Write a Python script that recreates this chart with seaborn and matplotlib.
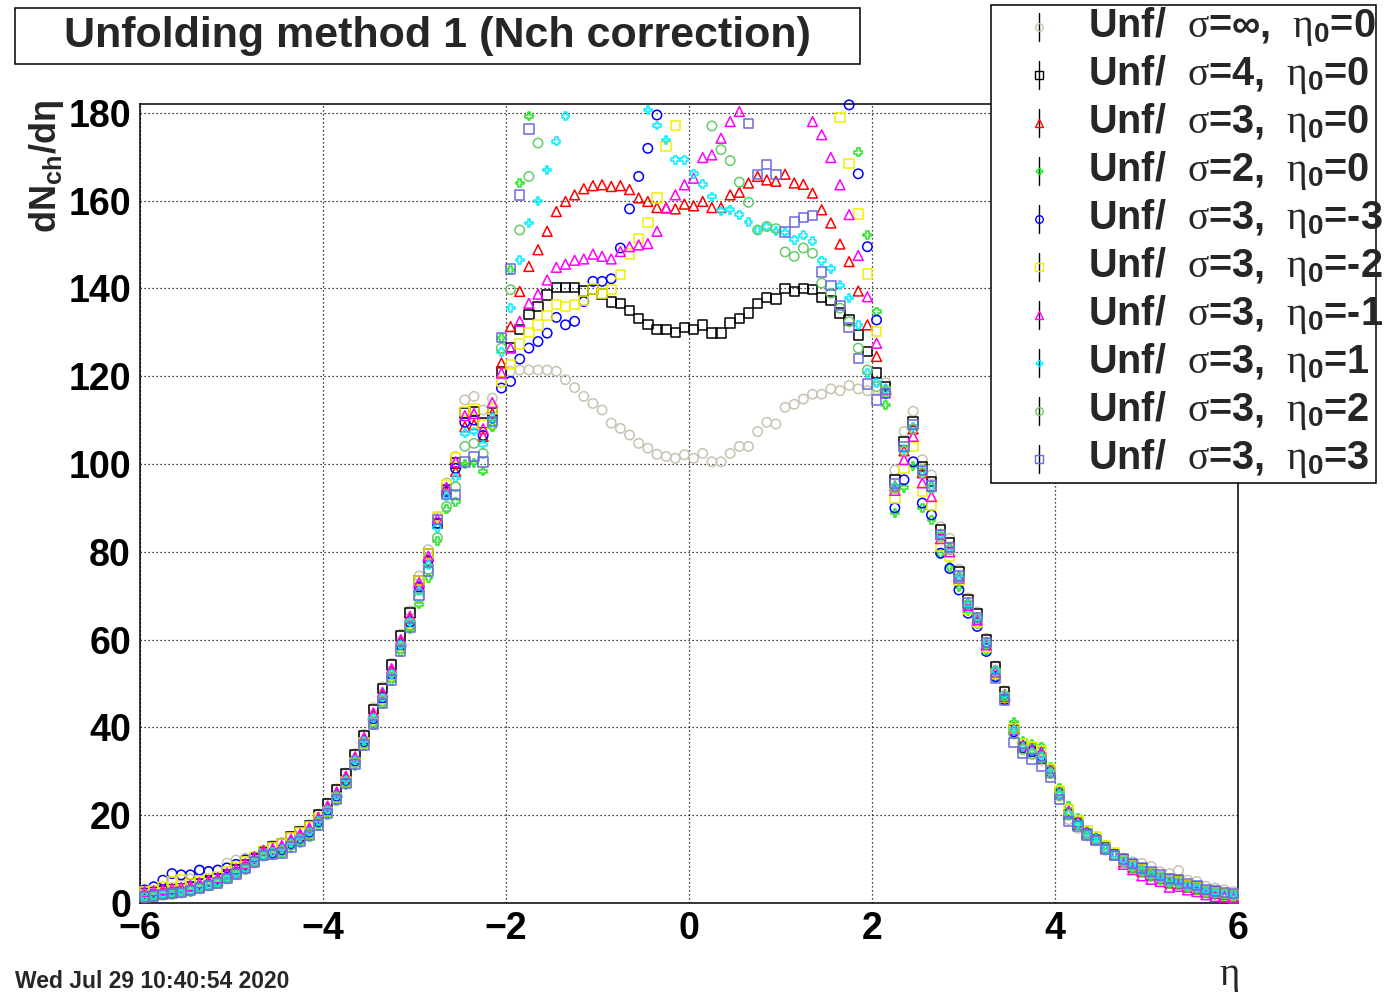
import numpy as np
import pandas as pd
import matplotlib
matplotlib.use("Agg")
import matplotlib.pyplot as plt
from matplotlib.lines import Line2D
from matplotlib.patches import Rectangle
import seaborn as sns

sns.set_style("white")
plt.rcParams["font.family"] = ["Liberation Sans", "DejaVu Sans"]
plt.rcParams["font.weight"] = "bold"
plt.rcParams["mathtext.fontset"] = "custom"
plt.rcParams["mathtext.rm"] = "Liberation Sans:bold"
plt.rcParams["mathtext.bf"] = "Liberation Sans:bold"
plt.rcParams["mathtext.it"] = "Liberation Serif:regular"
plt.rcParams["axes.unicode_minus"] = True

# ---- histogram binning: 120 bins in eta from -6 to 6 ----
n_bins = 120
eta_edges = np.linspace(-6.0, 6.0, n_bins + 1)
eta = 0.5 * (eta_edges[:-1] + eta_edges[1:])

# ---- unfolded dN/deta per bin (one list per unfolding setting) ----
unf_sinf_e0 = [
    2.3, 2.6, 3.0, 3.5, 4.2, 5.5, 7.3, 7.1, 7.5, 9.1,
    9.8, 10.2, 10.5, 12.0, 13.1, 13.8, 15.2, 16.4, 17.8, 20.2,
    22.8, 26.0, 29.6, 34.0, 38.4, 44.5, 49.2, 54.6, 61.2, 66.5,
    74.5, 80.5, 88.0, 95.7, 101.7, 114.6, 115.4, 112.3, 115.0, 118.5,
    121.1, 121.4, 121.4, 121.4, 121.4, 121.1, 119.2, 117.4, 115.4, 113.8,
    112.3, 109.3, 108.1, 106.6, 104.7, 103.6, 102.2, 101.7, 101.3, 102.1,
    101.3, 102.4, 100.5, 100.5, 102.4, 104.0, 104.0, 107.4, 109.5, 109.1,
    112.9, 113.6, 114.8, 115.9, 115.9, 117.1, 116.7, 117.9, 117.1, 116.7,
    117.0, 118.5, 98.6, 107.4, 112.0, 101.0, 97.5, 85.7, 83.1, 76.0,
    69.5, 66.3, 60.3, 54.0, 48.3, 39.0, 35.0, 33.8, 32.5, 29.5,
    24.3, 19.0, 17.0, 15.3, 14.2, 12.0, 10.8, 10.2, 9.4, 9.0,
    8.3, 7.1, 6.7, 7.4, 5.2, 4.9, 3.8, 3.4, 3.0, 2.6,
]
unf_s4_e0 = [
    2.3, 2.5, 2.8, 3.0, 3.3, 3.7, 4.3, 4.9, 5.5, 6.5,
    7.5, 8.7, 10.2, 11.7, 12.9, 13.6, 15.0, 16.2, 17.6, 20.0,
    22.6, 25.8, 29.4, 33.8, 38.2, 44.1, 48.8, 54.2, 60.8, 66.1,
    73.5, 79.5, 86.5, 94.1, 100.2, 111.6, 112.0, 109.3, 111.6, 121.0,
    126.5, 130.6, 134.0, 135.9, 138.5, 140.2, 140.2, 140.2, 139.4, 139.7,
    138.7, 136.9, 136.6, 134.9, 133.1, 131.8, 130.6, 130.6, 130.0, 131.1,
    130.6, 131.7, 129.8, 129.8, 132.1, 133.2, 134.4, 136.6, 137.9, 137.6,
    140.0, 139.3, 140.0, 139.7, 137.9, 137.2, 134.4, 132.8, 129.4, 125.6,
    120.7, 117.6, 96.4, 105.1, 109.7, 99.4, 96.0, 85.0, 82.0, 75.5,
    69.0, 66.0, 60.0, 53.8, 48.1, 39.5, 35.5, 34.5, 33.0, 29.7,
    24.8, 20.2, 18.0, 15.8, 14.5, 12.5, 11.0, 9.8, 8.8, 7.8,
    7.0, 6.1, 5.2, 5.0, 4.0, 3.6, 2.8, 2.5, 2.2, 1.9,
]
unf_s3_e0 = [
    1.8, 2.0, 2.3, 2.5, 2.8, 3.2, 3.8, 4.4, 5.0, 6.0,
    7.0, 8.2, 9.7, 11.2, 12.1, 12.8, 14.2, 15.4, 16.8, 19.2,
    21.8, 25.0, 28.6, 33.0, 37.4, 42.8, 47.5, 52.9, 59.5, 64.8,
    72.0, 78.0, 86.5, 93.7, 98.3, 108.5, 109.0, 106.3, 111.5, 123.0,
    131.3, 139.3, 145.0, 148.8, 153.0, 157.5, 159.8, 161.3, 162.7, 163.4,
    163.6, 163.2, 163.4, 162.5, 160.6, 159.8, 158.4, 158.4, 158.1, 159.2,
    158.8, 159.8, 158.4, 158.4, 161.3, 161.9, 164.0, 165.5, 164.7, 164.4,
    166.0, 164.0, 163.7, 161.7, 157.9, 154.9, 150.1, 146.1, 139.4, 131.7,
    124.5, 117.0, 95.0, 103.0, 108.0, 98.0, 95.0, 84.0, 81.0, 74.5,
    68.3, 65.0, 59.3, 53.0, 47.5, 40.0, 36.0, 35.3, 34.5, 30.3,
    25.3, 21.0, 18.5, 16.2, 14.8, 12.8, 11.2, 9.4, 8.2, 7.2,
    6.4, 5.6, 4.6, 4.4, 3.6, 3.2, 2.5, 2.2, 1.9, 1.6,
]
unf_s2_e0 = [
    1.2, 1.4, 1.7, 1.9, 2.2, 2.6, 3.2, 3.8, 4.4, 5.4,
    6.4, 7.6, 9.1, 10.6, 10.9, 11.1, 12.5, 13.7, 15.1, 17.5,
    20.1, 23.3, 26.9, 31.3, 35.7, 40.5, 45.2, 50.6, 57.2, 62.5,
    68.0, 74.0, 82.5, 89.7, 91.4, 100.0, 100.2, 98.3, 108.5, 128.7,
    144.2, 164.0, 179.2, 188.0, 195.0, 200.0, 204.0, 206.0, 207.0, 207.0,
    206.0, 205.0, 204.0, 203.0, 202.0, 201.0, 200.0, 200.0, 200.0, 200.0,
    200.0, 200.0, 201.0, 202.0, 203.0, 204.0, 205.0, 206.0, 207.0, 207.0,
    206.0, 204.0, 202.0, 199.0, 196.0, 193.0, 189.0, 185.0, 171.0, 152.2,
    134.7, 113.4, 88.8, 94.6, 99.5, 90.0, 87.3, 79.5, 76.5, 72.0,
    66.5, 63.5, 57.5, 51.5, 46.3, 41.2, 37.0, 36.2, 35.6, 31.0,
    26.2, 22.0, 19.3, 16.6, 15.2, 13.2, 11.4, 9.0, 7.8, 6.8,
    6.0, 5.2, 4.2, 4.0, 3.3, 3.0, 2.2, 1.9, 1.6, 1.3,
]
unf_s3_em3 = [
    3.0, 3.7, 5.2, 6.7, 6.4, 6.4, 7.5, 7.2, 7.5, 8.0,
    8.8, 9.8, 10.5, 11.8, 11.4, 12.1, 13.5, 14.7, 16.1, 18.5,
    21.1, 24.3, 27.9, 32.3, 36.7, 42.0, 46.7, 52.1, 58.7, 64.0,
    72.0, 78.0, 86.5, 93.7, 99.0, 109.5, 110.0, 106.5, 110.5, 117.3,
    118.8, 123.9, 126.4, 127.9, 129.8, 133.4, 131.7, 132.5, 137.0, 141.6,
    141.6, 142.2, 149.2, 158.1, 165.5, 171.9, 179.5, 186.0, 192.0, 197.0,
    200.0, 203.0, 205.0, 206.0, 207.0, 207.0, 206.0, 205.0, 203.0, 201.0,
    199.0, 197.0, 195.0, 193.0, 190.0, 187.0, 185.0, 181.8, 166.1, 149.5,
    132.8, 116.0, 90.0, 96.4, 100.5, 91.1, 88.4, 79.7, 76.2, 71.3,
    66.0, 63.0, 57.3, 51.5, 46.3, 39.0, 35.5, 34.5, 33.5, 29.8,
    24.8, 20.3, 18.0, 15.8, 14.5, 12.5, 11.0, 9.8, 8.6, 7.4,
    6.6, 5.8, 4.9, 4.6, 3.8, 3.4, 2.6, 2.3, 2.0, 1.7,
]
unf_s3_em2 = [
    2.5, 2.8, 3.6, 4.9, 5.2, 4.5, 5.0, 5.5, 6.0, 7.2,
    8.2, 9.3, 10.5, 11.8, 12.7, 13.4, 14.8, 16.0, 17.4, 19.5,
    20.8, 24.0, 27.6, 32.0, 36.4, 41.7, 46.4, 51.8, 58.4, 63.7,
    73.5, 79.5, 88.0, 95.2, 101.5, 112.0, 112.5, 109.0, 112.5, 118.8,
    122.6, 127.3, 130.0, 131.7, 133.8, 136.3, 135.9, 136.3, 137.2, 139.9,
    138.9, 139.7, 143.1, 147.8, 151.3, 155.0, 160.6, 172.3, 177.1, 184.0,
    189.0, 193.0, 196.0, 198.0, 199.0, 200.0, 200.0, 199.0, 198.0, 196.0,
    194.0, 192.0, 190.0, 188.0, 186.0, 184.5, 178.9, 168.5, 156.9, 143.3,
    130.2, 116.5, 92.3, 99.0, 104.0, 93.7, 90.5, 81.2, 78.9, 73.5,
    67.0, 64.0, 58.3, 52.3, 46.8, 39.8, 36.3, 35.5, 34.6, 30.5,
    25.5, 21.3, 18.8, 16.4, 15.0, 13.0, 11.4, 9.7, 8.6, 7.6,
    6.8, 5.9, 5.0, 4.8, 3.9, 3.5, 2.7, 2.4, 2.1, 1.8,
]
unf_s3_em1 = [
    2.6, 2.8, 3.1, 3.3, 3.6, 4.0, 4.6, 5.2, 5.8, 6.8,
    7.8, 9.0, 10.5, 12.0, 12.4, 13.1, 14.5, 15.7, 17.1, 19.5,
    22.1, 25.3, 28.9, 33.3, 37.7, 43.3, 48.0, 53.4, 60.0, 65.3,
    73.0, 79.0, 87.5, 94.7, 100.5, 111.0, 111.5, 108.0, 114.0, 120.7,
    126.4, 132.5, 136.6, 138.7, 141.9, 144.8, 145.5, 146.4, 146.7, 147.8,
    147.3, 146.7, 148.4, 149.5, 149.9, 150.2, 153.0, 158.3, 161.3, 163.6,
    165.1, 169.8, 170.4, 174.2, 178.0, 180.3, 185.0, 188.0, 190.0, 190.0,
    189.0, 186.0, 183.0, 178.0, 175.0, 169.8, 163.6, 156.8, 147.5, 138.1,
    127.5, 117.0, 94.0, 101.0, 106.3, 95.7, 92.6, 83.0, 80.0, 74.0,
    67.8, 64.5, 58.8, 52.6, 47.0, 39.5, 35.8, 35.0, 34.3, 30.0,
    25.0, 20.8, 18.3, 16.0, 14.6, 12.5, 11.0, 8.8, 7.6, 6.2,
    5.4, 4.9, 3.6, 3.8, 3.0, 2.6, 1.9, 1.5, 1.4, 1.1,
]
unf_s3_e1 = [
    1.5, 1.7, 2.0, 2.2, 2.5, 2.9, 3.5, 4.1, 4.7, 5.7,
    6.7, 7.9, 9.4, 10.9, 11.6, 12.3, 13.7, 14.9, 16.3, 18.7,
    21.3, 24.5, 28.1, 32.5, 36.9, 42.1, 46.8, 52.2, 58.8, 64.1,
    71.0, 77.0, 85.5, 92.7, 96.8, 107.0, 107.4, 104.4, 110.5, 125.6,
    135.5, 146.5, 154.9, 159.9, 167.0, 173.5, 179.2, 185.0, 189.0, 192.0,
    193.0, 193.0, 191.0, 188.0, 184.0, 180.6, 177.1, 173.8, 169.3, 169.3,
    166.1, 163.7, 160.9, 157.7, 157.9, 156.8, 155.1, 153.3, 154.1, 153.1,
    152.8, 151.1, 152.1, 150.7, 146.3, 144.5, 140.7, 137.8, 131.7, 120.7,
    118.5, 117.0, 95.0, 103.5, 108.5, 98.5, 95.0, 84.0, 81.0, 74.5,
    68.0, 65.0, 59.2, 53.0, 47.5, 39.5, 35.5, 34.5, 33.5, 29.8,
    24.8, 20.3, 18.0, 15.8, 14.5, 12.5, 11.0, 9.6, 8.4, 7.4,
    6.7, 5.9, 5.0, 4.8, 3.9, 3.5, 2.7, 2.4, 2.1, 1.8,
]
unf_s3_e2 = [
    1.3, 1.5, 1.8, 2.0, 2.3, 2.7, 3.3, 3.9, 4.5, 5.5,
    6.5, 7.7, 9.2, 10.7, 11.1, 11.8, 13.2, 14.4, 15.8, 18.2,
    20.8, 24.0, 27.6, 32.0, 36.4, 41.3, 46.0, 51.4, 58.0, 63.3,
    69.5, 76.0, 83.2, 90.3, 94.8, 104.0, 104.7, 102.4, 108.9, 126.4,
    139.7, 153.3, 165.5, 173.1, 184.0, 190.0, 194.0, 197.0, 199.0, 200.0,
    201.0, 201.0, 200.0, 199.0, 197.0, 195.0, 192.0, 190.0, 188.0, 187.0,
    186.0, 183.0, 177.0, 171.6, 169.1, 164.2, 159.6, 153.3, 154.1, 153.6,
    148.3, 147.3, 149.2, 148.0, 141.2, 138.9, 135.5, 132.4, 126.4, 121.4,
    117.6, 116.5, 94.5, 103.0, 108.0, 98.0, 94.5, 83.5, 80.5, 74.0,
    68.0, 64.8, 59.0, 52.8, 47.2, 38.5, 35.0, 34.0, 33.0, 29.5,
    24.5, 20.0, 17.8, 15.6, 14.3, 12.3, 10.8, 9.4, 8.3, 7.3,
    6.5, 5.7, 4.8, 4.6, 3.8, 3.4, 2.6, 2.3, 2.0, 1.7,
]
unf_s3_e3 = [
    1.4, 1.6, 1.9, 2.1, 2.4, 2.8, 3.4, 4.0, 4.6, 5.6,
    6.6, 7.8, 9.3, 10.8, 11.0, 11.4, 12.8, 14.0, 15.4, 17.8,
    20.4, 23.6, 27.2, 31.6, 36.0, 40.7, 45.4, 50.8, 57.4, 62.7,
    70.2, 75.5, 87.3, 93.0, 93.0, 100.5, 101.7, 100.5, 109.7, 128.8,
    144.4, 161.3, 176.3, 186.0, 193.0, 198.0, 201.0, 203.0, 204.0, 204.0,
    203.0, 202.0, 201.0, 200.0, 199.0, 198.0, 197.0, 196.0, 194.0, 192.0,
    190.0, 188.0, 186.0, 185.0, 184.0, 183.0, 177.6, 165.9, 168.2, 166.0,
    152.8, 155.1, 156.2, 156.6, 143.7, 140.7, 136.1, 131.1, 124.0, 118.2,
    114.6, 116.0, 95.5, 104.0, 109.0, 98.5, 95.0, 84.0, 81.0, 74.5,
    68.3, 65.0, 59.3, 51.2, 46.2, 36.6, 34.2, 32.8, 31.2, 28.6,
    23.6, 18.5, 17.5, 15.5, 14.3, 12.2, 10.8, 10.0, 9.0, 8.0,
    7.2, 6.4, 5.6, 5.4, 4.4, 4.0, 3.1, 2.7, 2.4, 2.1,
]

series_values = [unf_sinf_e0, unf_s4_e0, unf_s3_e0, unf_s2_e0, unf_s3_em3,
                 unf_s3_em2, unf_s3_em1, unf_s3_e1, unf_s3_e2, unf_s3_e3]
series_labels = [
    r"Unf/  $\sigma$=$\infty$,  $\eta_{0}$=0",
    r"Unf/  $\sigma$=4,  $\eta_{0}$=0",
    r"Unf/  $\sigma$=3,  $\eta_{0}$=0",
    r"Unf/  $\sigma$=2,  $\eta_{0}$=0",
    r"Unf/  $\sigma$=3,  $\eta_{0}$=-3",
    r"Unf/  $\sigma$=3,  $\eta_{0}$=-2",
    r"Unf/  $\sigma$=3,  $\eta_{0}$=-1",
    r"Unf/  $\sigma$=3,  $\eta_{0}$=1",
    r"Unf/  $\sigma$=3,  $\eta_{0}$=2",
    r"Unf/  $\sigma$=3,  $\eta_{0}$=3",
]
series_markers = ["o", "s", "^", "P", "o", "s", "^", "P", "o", "s"]
series_colors = ["#c8c3b0", "#000000", "#ff0000", "#1ee61e", "#0000ff",
                 "#f0f000", "#ff00ff", "#00eeff", "#66cc66", "#6a6ae0"]
series_sizes = [46, 46, 50, 32, 46, 46, 50, 32, 46, 46]

title_text = "Unfolding method 1 (Nch correction)"
date_text = "Wed Jul 29 10:40:54 2020"
y_max = 182.0

W, H = 1395, 992
fig = plt.figure(figsize=(W / 100, H / 100), dpi=100)
ax = fig.add_axes([140 / W, 1 - 903 / H, (1238 - 140) / W, (903 - 104) / H])

for i, (vals, m, c, s) in enumerate(zip(series_values, series_markers,
                                        series_colors, series_sizes)):
    df = pd.DataFrame({"eta": eta, "dndeta": np.asarray(vals, float)})
    df = df[df["dndeta"] <= y_max + 0.2]
    sns.scatterplot(data=df, x="eta", y="dndeta", marker=m, s=s, color=c,
                    linewidth=1.1, ax=ax, legend=False, clip_on=False,
                    zorder=3 + i)
    coll = ax.collections[-1]
    coll.set_facecolor("none")
    coll.set_edgecolor(c)

ax.set_xlim(-6, 6)
ax.set_ylim(0, y_max)
ax.set_xlabel("")
ax.set_ylabel("")
ax.set_xticks(np.arange(-6, 6.01, 2))
ax.set_xticks(np.arange(-6, 6.01, 0.5), minor=True)
ax.set_yticks(np.arange(0, 181, 20))
ax.set_yticks(np.arange(0, 181, 5), minor=True)
ax.tick_params(which="both", direction="in", top=False, right=False,
               color="black", width=1.0, labelcolor="black")
ax.tick_params(axis="y", which="major", length=23, pad=6.5, labelsize=27)
ax.tick_params(axis="y", which="minor", length=11.5)
ax.tick_params(axis="x", which="major", length=19, pad=5.5, labelsize=27)
ax.tick_params(axis="x", which="minor", length=9.5)
ax.set_axisbelow(True)
ax.grid(True, which="major", color="black", linestyle=(0, (1, 2.2)),
        linewidth=0.9)
for sp in ax.spines.values():
    sp.set_color("black")
    sp.set_linewidth(1.1)
    sp.set_visible(True)

# axis titles
fig.text(47 / W, 1 - 100 / H, r"$\mathbf{dN_{ch}/d\eta}$", rotation=90,
         ha="center", va="top", fontsize=26)
fig.text(1230 / W, 1 - 976 / H, "η", family="Liberation Serif",
         weight="normal", fontsize=28, ha="center", va="center")

# title box
fig.add_artist(Rectangle((15 / W, 1 - 64 / H), (860 - 15) / W, (64 - 8) / H,
                         transform=fig.transFigure, facecolor="white",
                         edgecolor="black", linewidth=1.1, zorder=5))
fig.text(437 / W, 1 - 36 / H, title_text, ha="center", va="center",
         fontsize=31, zorder=6)

# legend box
fig.add_artist(Rectangle((991 / W, 1 - 483 / H), (1376 - 991) / W,
                         (483 - 5) / H, transform=fig.transFigure,
                         facecolor="white", edgecolor="black",
                         linewidth=1.1, zorder=10))
for i, (lab, m, c, s) in enumerate(zip(series_labels, series_markers,
                                       series_colors, series_sizes)):
    yc = 27.3 + 48.0 * i
    fig.add_artist(Line2D([1039 / W, 1039 / W],
                          [1 - (yc - 14) / H, 1 - (yc + 14) / H],
                          transform=fig.transFigure, color="black",
                          linewidth=1.0, zorder=11))
    fig.add_artist(Line2D([1039 / W], [1 - yc / H], transform=fig.transFigure,
                          marker=m, markersize=np.sqrt(s) * 0.8,
                          markerfacecolor="none", markeredgecolor=c,
                          markeredgewidth=1.0, linestyle="none", zorder=12))
    fig.text(1088 / W, 1 - (yc + 10) / H, lab, ha="left", va="baseline",
             fontsize=28.5, zorder=12)

fig.text(15 / W, 1 - 988 / H, date_text, ha="left", va="baseline",
         fontsize=16.5)

fig.savefig("out.png", dpi=100)
